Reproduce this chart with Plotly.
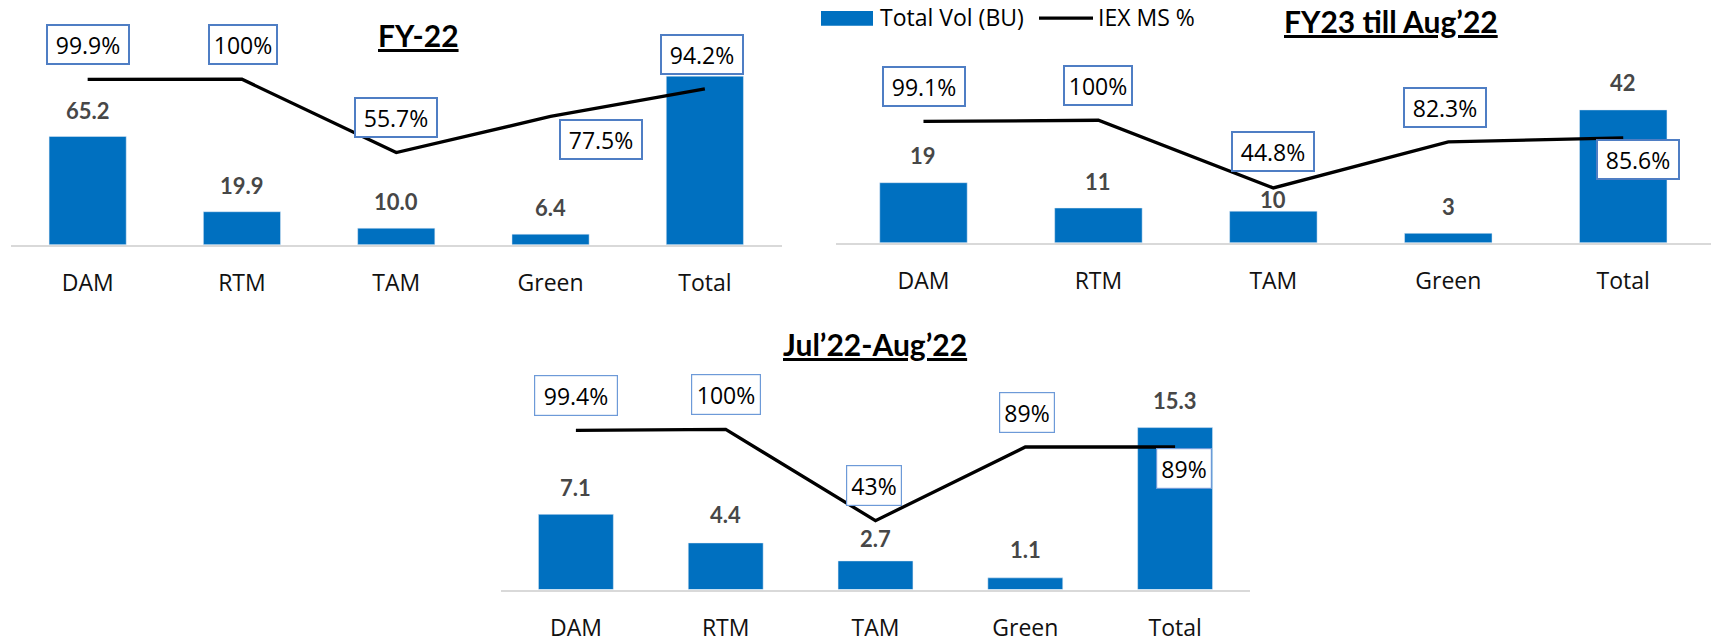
import plotly.graph_objects as go

# ---------------- data ----------------
categories = ["DAM", "RTM", "TAM", "Green", "Total"]

fy22_vol = [65.2, 19.9, 10.0, 6.4, 101.5]
fy22_ms = [99.9, 100, 55.7, 77.5, 94.2]

fy23_vol = [19, 11, 10, 3, 42]
fy23_ms = [99.1, 100, 44.8, 82.3, 85.6]

jul_vol = [7.1, 4.4, 2.7, 1.1, 15.3]
jul_ms = [99.4, 100, 43, 89, 89]

titles = ["FY-22", "FY23 till Aug\u201922", "Jul\u201922-Aug\u201922"]
legend_names = ["Total Vol (BU)", "IEX MS %"]

# ---------------- styling ----------------
W, H = 1714, 643
BAR_COLOR = "#0070C0"
REG_FONT = "Open Sans"
BOLD_FONT = "Lato"


def px_x(p):
    return p / W


def px_y(p):
    return 1 - p / H


panels = [
    dict(vol=fy22_vol, ms=fy22_ms, fmt="{:.1f}", xd=(10.5, 782), base=247.5, top=30,
         bar_scale=1.68, line_scale=1.674,
         vshift=[26, 26, 27, 27, 26],
         vshow=[True, True, True, True, False],   # total label hidden behind the % box
         bshift=[(0, 35), (1, 35), (0, 35), (50, -23), (-3, 34)],
         bcolor="#4F7EC4", bw=2.0,
         title_xy=(418.7, 35.8)),
    dict(vol=fy23_vol, ms=fy23_ms, fmt="{:.0f}", xd=(836, 1710.7), base=245.5, top=30,
         bar_scale=3.2, line_scale=1.239,
         vshift=[27, 27, 12, 27, 27],
         vshow=[True] * 5,
         bshift=[(1, 35), (0, 35), (0, 36), (-3, 34), (15, -22)],
         bcolor="#4F7EC4", bw=2.0,
         title_xy=(1391, 21.5)),
    dict(vol=jul_vol, ms=jul_ms, fmt="{:.1f}", xd=(501, 1250), base=596, top=380,
         bar_scale=10.7, line_scale=1.619,
         vshift=[27, 28, 22, 28, 27],
         vshow=[True] * 5,
         bshift=[(0, 35), (0, 35), (-2, 35), (2, 34), (9, -22)],
         bcolor="#6D9AD8", bw=1.2,
         title_xy=(874.5, 348)),
]

fig = go.Figure()
layout = dict(
    width=W, height=H, margin=dict(l=0, r=0, t=0, b=0),
    paper_bgcolor="white", plot_bgcolor="rgba(0,0,0,0)",
    bargap=0.5, showlegend=False,
)
annotations = []

for i, p in enumerate(panels):
    xa = "x" if i == 0 else f"x{i+1}"
    ya_bar = "y" if i == 0 else f"y{2*i+1}"
    ya_line = f"y{2*i+2}"
    height_px = p["base"] - p["top"]
    ydom = [px_y(p["base"]), px_y(p["top"])]

    fig.add_trace(go.Bar(x=categories, y=p["vol"], marker_color=BAR_COLOR,
                         xaxis=xa, yaxis=ya_bar, hoverinfo="x+y"))
    fig.add_trace(go.Scatter(x=categories, y=p["ms"], mode="lines",
                             line=dict(color="black", width=3.3),
                             xaxis=xa, yaxis=ya_line))

    xkey = "xaxis" if i == 0 else f"xaxis{i+1}"
    ybkey = "yaxis" if i == 0 else f"yaxis{2*i+1}"
    ylkey = f"yaxis{2*i+2}"
    layout[xkey] = dict(
        domain=[px_x(p["xd"][0]), px_x(p["xd"][1])], anchor=ya_bar,
        showline=True, linecolor="#D9D9D9", linewidth=2,
        showgrid=False, zeroline=False, ticks="",
        ticklabelstandoff=17,
        tickfont=dict(family=REG_FONT, size=23, color="#111111"),
        fixedrange=True,
    )
    layout[ybkey] = dict(domain=ydom, range=[0, height_px / p["bar_scale"]],
                         visible=False, anchor=xa, fixedrange=True)
    layout[ylkey] = dict(domain=ydom, range=[0, height_px / p["line_scale"]],
                         visible=False, overlaying=ya_bar, anchor=xa,
                         fixedrange=True)

    # bar value labels
    for c, v, s, show in zip(categories, p["vol"], p["vshift"], p["vshow"]):
        if not show:
            continue
        annotations.append(dict(
            x=c, y=v, xref=xa, yref=ya_bar, text=p["fmt"].format(v),
            showarrow=False, yanchor="middle", yshift=s,
            font=dict(family=BOLD_FONT, size=22, color="#474747", weight="bold"),
        ))
    # line value boxes
    pad = 4
    for c, v, (dx, dy) in zip(categories, p["ms"], p["bshift"]):
        txt = f"{v:g}%"
        outer_w = 14 * len(txt) + 14
        annotations.append(dict(
            x=c, y=v, xref=xa, yref=ya_line, text=txt,
            showarrow=False, xanchor="center", yanchor="middle",
            xshift=dx, yshift=dy,
            bgcolor="white", bordercolor=p["bcolor"], borderwidth=p["bw"],
            borderpad=pad,
            width=outer_w - 2 * (pad + p["bw"]),
            height=41 - 2 * (pad + p["bw"]),
            font=dict(family=REG_FONT, size=23, color="black"),
        ))
    # panel title
    tx, ty = p["title_xy"]
    annotations.append(dict(
        x=px_x(tx), y=px_y(ty), xref="paper", yref="paper",
        text=f"<b>{titles[i]}</b>", showarrow=False,
        xanchor="center", yanchor="middle",
        font=dict(family=BOLD_FONT, size=30, color="black", lineposition="under"),
    ))

# manual legend (top centre)
shapes = [
    dict(type="rect", xref="paper", yref="paper",
         x0=px_x(821), x1=px_x(873), y0=px_y(26), y1=px_y(11),
         fillcolor=BAR_COLOR, line=dict(width=0)),
    dict(type="line", xref="paper", yref="paper",
         x0=px_x(1039), x1=px_x(1093), y0=px_y(18.3), y1=px_y(18.3),
         line=dict(color="black", width=3.3)),
]
annotations.append(dict(x=px_x(878), y=px_y(17.5), xref="paper", yref="paper",
                        text=legend_names[0], showarrow=False,
                        xanchor="left", yanchor="middle",
                        font=dict(family=REG_FONT, size=23, color="black")))
annotations.append(dict(x=px_x(1096), y=px_y(17.5), xref="paper", yref="paper",
                        text=legend_names[1], showarrow=False,
                        xanchor="left", yanchor="middle",
                        font=dict(family=REG_FONT, size=23, color="black")))

layout["annotations"] = annotations
layout["shapes"] = shapes
fig.update_layout(**layout)
fig.update_traces(cliponaxis=False, selector=dict(type="bar"))

fig.write_html(
    "out.html",
    config={"displayModeBar": False},
    post_script="document.body.style.margin='0';document.body.style.overflow='hidden';",
)
